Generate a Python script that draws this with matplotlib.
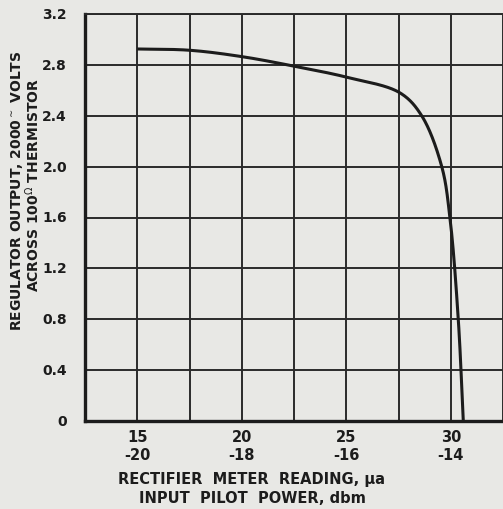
import matplotlib
matplotlib.use("Agg")
import matplotlib.pyplot as plt
import numpy as np

# data
meter_ua = [15.0, 17.5, 20.0, 22.5, 25.1, 27.57, 28.61, 29.57, 29.96, 30.36, 30.60]
volts = [2.925, 2.915, 2.865, 2.79, 2.70, 2.58, 2.40, 2.00, 1.60, 0.80, 0.0]

x_ticks = [15, 20, 25, 30]
x_ticks_dbm = ["-20", "-18", "-16", "-14"]
y_ticks = [0, 0.4, 0.8, 1.2, 1.6, 2.0, 2.4, 2.8, 3.2]
y_tick_labels = ["0", "0.4", "0.8", "1.2", "1.6", "2.0", "2.4", "2.8", "3.2"]

bg = "#e8e8e5"
ink = "#1c1c1c"
W, H = 503, 510
L, R, T, B = 85, 503, 15, 422

fig = plt.figure(figsize=(W / 100, H / 100), dpi=100, facecolor=bg)
ax = fig.add_axes([L / W, 1 - B / H, (R - L) / W, (B - T) / H])
ax.set_facecolor(bg)

ax.set_xlim(12.5, 32.5)
ax.set_ylim(0, 3.2)

ax.set_xticks(np.arange(12.5, 32.6, 2.5))
ax.set_xticklabels([])
ax.set_yticks(y_ticks)
ax.set_yticklabels([])
ax.grid(True, color="#2a2a2a", linewidth=1.4)
ax.tick_params(length=0)

for s in ["left", "bottom"]:
    ax.spines[s].set_linewidth(2.4)
    ax.spines[s].set_color(ink)
ax.spines["top"].set_linewidth(1.4)
ax.spines["top"].set_color("#2a2a2a")
ax.spines["right"].set_visible(False)


def catmull_rom(px_pts, n_per=60):
    """Centripetal Catmull-Rom through points given in display units."""
    P = np.asarray(px_pts, float)
    P = np.vstack([2 * P[0] - P[1], P, 2 * P[-1] - P[-2]])
    out = []
    for i in range(1, len(P) - 2):
        p0, p1, p2, p3 = P[i - 1], P[i], P[i + 1], P[i + 2]
        t0 = 0.0
        t1 = t0 + np.linalg.norm(p1 - p0) ** 0.5
        t2 = t1 + np.linalg.norm(p2 - p1) ** 0.5
        t3 = t2 + np.linalg.norm(p3 - p2) ** 0.5
        t = np.linspace(t1, t2, n_per)[:, None]
        A1 = (t1 - t) / (t1 - t0) * p0 + (t - t0) / (t1 - t0) * p1
        A2 = (t2 - t) / (t2 - t1) * p1 + (t - t1) / (t2 - t1) * p2
        A3 = (t3 - t) / (t3 - t2) * p2 + (t - t2) / (t3 - t2) * p3
        B1 = (t2 - t) / (t2 - t0) * A1 + (t - t0) / (t2 - t0) * A2
        B2 = (t3 - t) / (t3 - t1) * A2 + (t - t1) / (t3 - t1) * A3
        C = (t2 - t) / (t2 - t1) * B1 + (t - t1) / (t2 - t1) * B2
        out.append(C)
    return np.vstack(out)


# smooth in display space, then map back through the axes' own transform
disp = ax.transData.transform(np.column_stack([meter_ua, volts]))
smooth = catmull_rom(disp)
data_pts = ax.transData.inverted().transform(smooth)
ax.plot(data_pts[:, 0], data_pts[:, 1], color=ink, linewidth=2.2, solid_capstyle="butt")


def px(xv):
    return L + (xv - 12.5) / 20.0 * (R - L)


def py(yv):
    return B - yv / 3.2 * (B - T)


# y tick labels
for v, lab in zip(y_ticks, y_tick_labels):
    fig.text(67 / W, 1 - py(v) / H, lab, ha="right", va="center",
             fontsize=10, fontweight="bold", color=ink)

# x tick labels (two rows)
for xv, d in zip(x_ticks, x_ticks_dbm):
    fig.text(px(xv) / W, 1 - 438 / H, str(xv), ha="center", va="center",
             fontsize=10.5, fontweight="bold", color=ink)
    fig.text(px(xv) / W, 1 - 455 / H, d, ha="center", va="center",
             fontsize=10.5, fontweight="bold", color=ink)

fig.text(252 / W, 1 - 480 / H, "RECTIFIER  METER  READING, \u03bca", ha="center", va="center",
         fontsize=10.5, fontweight="bold", color=ink)
fig.text(252 / W, 1 - 499 / H, "INPUT  PILOT  POWER, dbm", ha="center", va="center",
         fontsize=10.5, fontweight="bold", color=ink)

fig.text(17 / W, 1 - 191 / H, "REGULATOR OUTPUT, 2000$^{\\sim}$ VOLTS", rotation=90,
         ha="center", va="center", fontsize=10, fontweight="bold", color=ink)
fig.text(33 / W, 1 - 185 / H, "ACROSS 100$^{\\Omega}$ THERMISTOR", rotation=90,
         ha="center", va="center", fontsize=10, fontweight="bold", color=ink)

fig.savefig("out.png", dpi=100, facecolor=bg)
